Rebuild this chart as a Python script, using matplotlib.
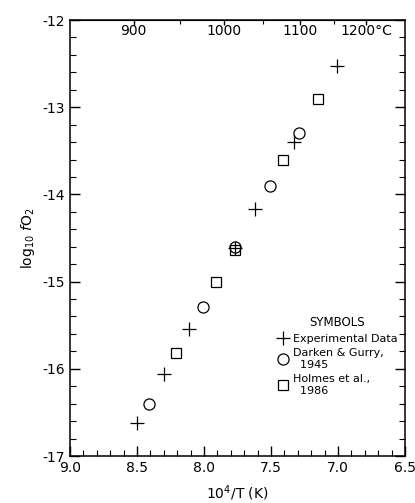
import numpy as np
import matplotlib.pyplot as plt
from matplotlib.ticker import MultipleLocator, FixedLocator

# experimental data (10^4/T, log10 fO2)
exp_x = [7.01, 7.33, 7.62, 7.77, 8.11, 8.30, 8.50]
exp_y = [-12.53, -13.40, -14.17, -14.62, -15.54, -16.06, -16.62]

# Darken & Gurry, 1945
dg_x = [7.29, 7.51, 7.77, 8.01, 8.41]
dg_y = [-13.29, -13.90, -14.60, -15.29, -16.40]

# Holmes et al., 1986
hol_x = [7.15, 7.41, 7.77, 7.91, 8.21]
hol_y = [-12.91, -13.60, -14.64, -15.00, -15.82]

top_ticks_c = [900, 1000, 1100, 1200]
top_labels = ['900', '1000', '1100', '1200°C']
top_minor_c = [950, 1050, 1150]

plt.rcParams['font.family'] = ['DejaVu Sans']
plt.rcParams['font.size'] = 10

fig = plt.figure(figsize=(4.15, 5.03), dpi=100)
ax = fig.add_axes([0.1687, 0.0934, 0.8073, 0.8668])

ax.plot(exp_x, exp_y, linestyle='none', marker='+', color='black',
        markersize=9.5, markeredgewidth=0.9, label='Experimental Data')
ax.plot(dg_x, dg_y, linestyle='none', marker='o', markerfacecolor='none',
        markeredgecolor='black', markersize=8, markeredgewidth=0.9,
        label='Darken & Gurry,\n  1945')
ax.plot(hol_x, hol_y, linestyle='none', marker='s', markerfacecolor='none',
        markeredgecolor='black', markersize=7.5, markeredgewidth=0.9,
        label='Holmes et al.,\n  1986')

ax.set_xlim(9.0, 6.5)
ax.set_ylim(-17, -12)
ax.xaxis.set_major_locator(MultipleLocator(0.5))
ax.xaxis.set_minor_locator(MultipleLocator(0.1))
ax.yaxis.set_major_locator(MultipleLocator(1))
ax.yaxis.set_minor_locator(MultipleLocator(0.2))
ax.xaxis.set_major_formatter(lambda v, p: f'{v:.1f}')
ax.yaxis.set_major_formatter(lambda v, p: f'{int(round(v))}')

ax.tick_params(which='major', direction='in', length=7, width=1, top=False, right=True)
ax.tick_params(which='minor', direction='in', length=4, width=0.8, top=False, right=True)
for s in ax.spines.values():
    s.set_linewidth(1.1)

# temperature scale along the top
secax = ax.secondary_xaxis('top', functions=(lambda x: 1e4 / np.asarray(x, float) - 273.15,
                                             lambda c: 1e4 / (np.asarray(c, float) + 273.15)))
secax.xaxis.set_major_locator(FixedLocator(top_ticks_c))
secax.xaxis.set_minor_locator(FixedLocator(top_minor_c))
secax.set_xticklabels(top_labels)
secax.tick_params(which='major', direction='in', length=3.5, width=1, pad=-13)
secax.tick_params(which='minor', direction='in', length=3, width=0.8)

ax.set_xlabel('10$^4$/T (K)', labelpad=6)
ax.set_ylabel('log$_{10}$ $f$O$_2$', labelpad=4)

ax.legend(title='SYMBOLS', frameon=False, loc='lower right',
          bbox_to_anchor=(1.0, 0.12), fontsize=8, title_fontsize=8.5,
          handletextpad=0.3, handlelength=1.2, labelspacing=0.4,
          borderaxespad=0.3)

fig.savefig('out.png', dpi=100)
